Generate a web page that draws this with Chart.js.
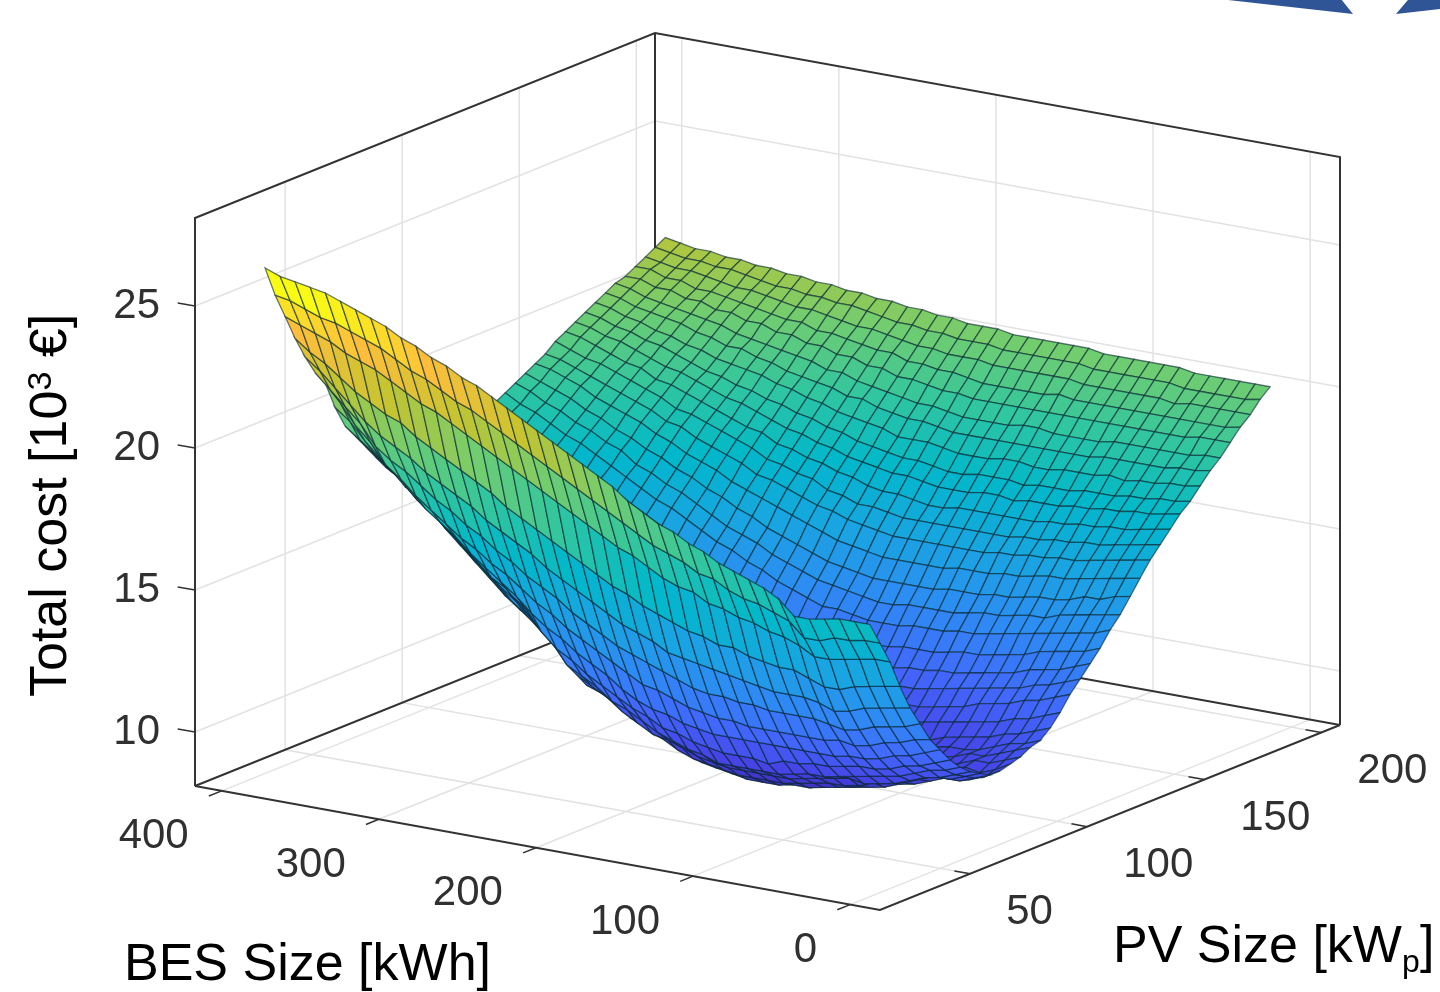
<!DOCTYPE html>
<html>
<head>
<meta charset="utf-8">
<title>Total cost surface</title>
<script src="https://cdn.jsdelivr.net/npm/chart.js@4/dist/chart.umd.js"></script>
<style>
  html, body { margin: 0; background: #fff; overflow: hidden; }
  #wrap { position: relative; width: 1440px; height: 992px; }
  .arrow { position: absolute; top: 0; height: 14px; background: #2f5597; }
  #arrowA { left: 1228px; width: 125px; clip-path: polygon(0 0, 91% 0, 100% 100%); }
  #arrowB { left: 1396px; width: 44px; clip-path: polygon(27% 0, 100% 0, 100% 64%, 0 100%); }
</style>
</head>
<body>
<div id="wrap">
  <canvas id="surfaceChart" width="1440" height="992"></canvas>
  <div class="arrow" id="arrowA"></div>
  <div class="arrow" id="arrowB"></div>
</div>
<script>
const besSizes = [15,24.6,34.3,43.9,53.5,63.1,72.8,82.4,92,101.6,111.3,120.9,130.5,140.1,149.8,159.4,169,178.6,188.3,197.9,207.5,217.1,226.8,236.4,246,255.6,265.3,274.9,284.5,294.1,303.8,313.4,323,332.6,342.3,351.9,361.5,371.1,380.8,390.4,400];
const pvSizes = [30,34.3,38.6,42.8,47.1,51.4,55.7,59.9,64.2,68.5,72.8,77,81.3,85.6,89.9,94.1,98.4,102.7,107,111.2,115.5,119.8,124.1,128.3,132.6,136.9,141.2,145.4,149.7,154,158.3,162.5,166.8,171.1,175.4,179.6,183.9,188.2,192.5,196.7,201];

const besTicks = [0, 100, 200, 300, 400];
const pvTicks = [50, 100, 150, 200];
const costTicks = [10, 15, 20, 25];

// one row per BES size, one value per PV size (10^3 EUR)
const totalCost = [
[17.2,16.4,15.6,14.6,13.7,13.0,12.3,11.8,11.3,10.9,10.6,10.4,10.2,10.2,10.3,10.4,10.6,10.7,11.0,11.4,11.9,12.3,12.7,13.1,13.6,14.0,14.5,15.0,15.5,15.9,16.3,16.7,17.0,17.4,17.8,18.1,18.5,18.9,19.2,19.6,19.9],
[17.2,16.4,15.6,14.5,13.6,12.8,12.2,11.6,11.1,10.7,10.4,10.2,10.0,9.9,10.0,10.2,10.4,10.5,10.8,11.2,11.7,12.1,12.5,12.9,13.4,13.9,14.4,14.9,15.4,15.8,16.2,16.6,16.9,17.3,17.7,18.1,18.5,18.8,19.2,19.5,19.9],
[17.2,16.3,15.5,14.4,13.5,12.7,12.0,11.4,10.9,10.6,10.2,10.0,9.8,9.7,9.8,10.0,10.2,10.4,10.6,11.0,11.5,11.9,12.3,12.8,13.3,13.8,14.2,14.8,15.3,15.7,16.1,16.5,16.9,17.3,17.7,18.0,18.5,18.8,19.2,19.5,19.9],
[17.1,16.3,15.4,14.3,13.4,12.6,11.9,11.3,10.8,10.4,10.1,10.0,9.8,9.8,9.9,10.0,10.0,10.2,10.5,10.9,11.4,11.8,12.2,12.7,13.2,13.7,14.2,14.7,15.2,15.6,16.0,16.5,16.8,17.2,17.6,18.0,18.4,18.8,19.2,19.5,19.9],
[17.0,16.1,15.3,14.1,13.2,12.4,11.7,11.1,10.6,10.2,9.9,9.8,9.6,9.6,9.7,9.8,10.0,10.0,10.3,10.7,11.2,11.6,12.1,12.6,13.1,13.6,14.0,14.6,15.1,15.5,16.0,16.4,16.8,17.2,17.6,18.0,18.4,18.8,19.2,19.5,19.9],
[17.0,16.1,15.3,14.1,13.1,12.3,11.6,11.0,10.5,10.1,9.7,9.6,9.4,9.4,9.5,9.6,9.8,9.9,10.2,10.6,11.1,11.5,11.9,12.4,13.0,13.4,13.9,14.5,15.0,15.5,15.9,16.4,16.7,17.1,17.6,18.0,18.4,18.8,19.1,19.5,19.9],
[17.5,16.6,15.6,14.3,13.3,12.4,11.7,11.0,10.5,10.0,9.6,9.5,9.3,9.2,9.3,9.5,9.7,9.9,10.1,10.5,11.0,11.4,11.8,12.3,12.9,13.4,13.9,14.5,15.0,15.4,15.9,16.3,16.7,17.2,17.6,18.0,18.4,18.8,19.2,19.6,20.0],
[17.8,16.8,15.8,14.5,13.4,12.5,11.6,10.9,10.4,9.9,9.5,9.4,9.1,9.1,9.2,9.3,9.6,9.8,10.0,10.4,10.8,11.3,11.7,12.2,12.8,13.3,13.8,14.4,14.9,15.4,15.8,16.3,16.7,17.1,17.6,18.0,18.4,18.8,19.2,19.6,20.0],
[18.0,17.0,15.9,14.5,13.4,12.5,11.6,10.9,10.3,9.8,9.6,9.2,9.0,8.9,9.0,9.2,9.4,9.6,9.8,10.3,10.7,11.2,11.6,12.1,12.7,13.2,13.7,14.3,14.9,15.3,15.8,16.2,16.6,17.1,17.5,17.9,18.4,18.8,19.2,19.6,20.0],
[18.2,17.1,16.1,14.6,13.4,12.5,11.6,10.9,10.3,9.7,9.5,9.1,8.9,8.8,8.9,9.1,9.3,9.5,9.8,10.2,10.6,11.1,11.5,12.1,12.6,13.2,13.7,14.3,14.8,15.3,15.7,16.2,16.6,17.1,17.5,17.9,18.4,18.8,19.2,19.6,20.0],
[18.4,17.3,16.2,14.7,13.5,12.5,11.6,10.9,10.2,9.7,9.4,9.1,8.8,8.7,8.8,9.0,9.2,9.5,9.7,10.1,10.5,11.0,11.5,12.0,12.6,13.1,13.6,14.2,14.8,15.2,15.7,16.2,16.6,17.0,17.5,17.9,18.4,18.8,19.2,19.6,20.0],
[18.7,17.6,16.4,14.9,13.6,12.6,11.6,10.9,10.2,9.6,9.3,9.0,8.7,8.6,8.7,8.9,9.1,9.4,9.6,10.0,10.5,10.9,11.4,11.9,12.5,13.0,13.6,14.2,14.7,15.2,15.7,16.1,16.5,17.0,17.5,17.9,18.4,18.8,19.2,19.6,20.0],
[18.9,17.7,16.5,14.9,13.7,12.6,11.6,10.9,10.0,9.5,9.2,8.9,8.6,8.5,8.6,8.8,9.0,9.3,9.5,10.0,10.4,10.9,11.4,11.9,12.5,13.0,13.6,14.2,14.7,15.2,15.7,16.2,16.6,17.1,17.5,18.0,18.4,18.9,19.3,19.7,20.1],
[19.2,18.0,16.8,15.1,13.8,12.7,11.7,10.9,10.1,9.5,9.2,8.8,8.6,8.5,8.6,8.7,9.0,9.2,9.5,9.9,10.4,10.9,11.3,11.9,12.5,13.0,13.5,14.1,14.7,15.2,15.7,16.2,16.6,17.1,17.5,18.0,18.4,18.8,19.3,19.7,20.1],
[19.4,18.2,16.9,15.2,13.9,12.7,11.7,10.9,10.1,9.5,9.2,8.8,8.5,8.4,8.5,8.7,8.9,9.2,9.6,9.8,10.3,10.8,11.3,11.8,12.4,13.0,13.5,14.1,14.7,15.2,15.7,16.1,16.6,17.0,17.5,17.9,18.4,18.8,19.3,19.7,20.1],
[19.7,18.4,17.1,15.4,14.0,12.8,11.8,10.9,10.1,9.5,9.2,8.8,8.5,8.4,8.5,8.6,8.9,9.1,9.6,9.8,10.3,10.8,11.2,11.8,12.4,12.9,13.5,14.1,14.7,15.2,15.6,16.1,16.5,17.0,17.5,17.9,18.4,18.8,19.3,19.7,20.1],
[20.0,18.7,17.4,15.6,14.1,13.0,11.9,11.0,10.2,9.5,9.2,8.8,8.5,8.4,8.5,8.6,8.9,9.1,9.6,9.8,10.3,10.8,11.2,11.8,12.4,12.9,13.5,14.1,14.7,15.2,15.6,16.1,16.5,17.0,17.5,17.9,18.4,18.8,19.3,19.7,20.1],
[20.4,19.0,17.7,15.8,14.4,13.2,12.1,11.1,10.3,9.7,9.3,8.9,8.6,8.5,8.6,8.7,9.0,9.2,9.5,9.9,10.4,10.8,11.3,11.9,12.5,13.0,13.5,14.1,14.7,15.2,15.7,16.2,16.6,17.1,17.5,17.9,18.4,18.8,19.3,19.7,20.1],
[20.7,19.3,17.9,16.1,14.6,13.4,12.3,11.3,10.5,9.8,9.4,9.0,8.7,8.6,8.7,8.8,9.1,9.3,9.5,10.0,10.5,10.9,11.4,12.0,12.6,13.1,13.6,14.2,14.8,15.3,15.8,16.3,16.7,17.2,17.6,18.0,18.5,18.9,19.4,19.8,20.2],
[21.0,19.6,18.2,16.3,14.8,13.6,12.4,11.4,10.6,10.0,9.6,9.1,8.8,8.7,8.8,9.0,9.2,9.5,9.7,10.2,10.6,11.1,11.5,12.1,12.6,13.2,13.7,14.3,14.9,15.4,15.8,16.3,16.7,17.2,17.7,18.1,18.5,19.0,19.4,19.8,20.2],
[21.3,19.9,18.5,16.6,15.1,13.8,12.7,11.6,10.9,10.2,9.8,9.3,9.0,8.9,9.0,9.2,9.4,9.7,9.9,10.3,10.7,11.2,11.7,12.2,12.8,13.3,13.8,14.4,15.0,15.4,15.9,16.4,16.8,17.2,17.7,18.1,18.6,19.0,19.4,19.8,20.2],
[21.6,20.2,18.8,16.9,15.4,14.1,13.0,11.9,11.1,10.5,9.9,9.6,9.3,9.2,9.3,9.5,9.7,9.9,10.1,10.5,11.0,11.5,11.9,12.4,13.0,13.5,14.0,14.6,15.2,15.6,16.1,16.5,16.9,17.4,17.8,18.2,18.7,19.1,19.5,19.9,20.3],
[21.9,20.5,19.1,17.2,15.7,14.4,13.3,12.3,11.4,10.8,10.2,9.9,9.6,9.5,9.6,9.8,10.0,9.9,10.4,10.8,11.3,11.7,12.1,12.6,13.2,13.7,14.2,14.8,15.3,15.7,16.2,16.6,17.0,17.5,17.9,18.3,18.7,19.1,19.5,19.9,20.3],
[22.2,20.8,19.4,17.5,16.0,14.7,13.6,12.6,11.7,11.0,10.5,10.1,9.9,9.8,9.9,10.0,10.1,10.3,10.7,11.1,11.6,12.0,12.4,12.9,13.5,13.9,14.4,15.0,15.5,16.0,16.4,16.8,17.2,17.6,18.1,18.4,18.9,19.3,19.6,20.0,20.4],
[22.5,21.1,19.7,17.8,16.3,15.1,13.9,12.9,12.0,11.4,10.9,10.5,10.1,10.0,10.1,10.3,10.5,10.7,11.0,11.4,11.8,12.3,12.7,13.2,13.7,14.2,14.6,15.2,15.7,16.1,16.5,16.9,17.3,17.7,18.1,18.5,18.9,19.3,19.7,20.0,20.4],
[22.8,21.4,20.0,18.1,16.7,15.4,14.3,13.3,12.4,11.7,11.2,10.8,10.5,10.4,10.5,10.7,10.9,11.0,11.3,11.7,12.2,12.6,13.0,13.5,14.0,14.4,14.9,15.4,15.9,16.3,16.7,17.1,17.5,17.9,18.3,18.7,19.1,19.4,19.8,20.1,20.5],
[23.1,21.7,20.3,18.4,17.0,15.7,14.6,13.6,12.7,12.0,11.5,11.0,10.7,10.6,10.7,10.9,11.0,11.2,11.6,12.0,12.4,12.8,13.2,13.7,14.2,14.6,15.1,15.6,16.0,16.4,16.8,17.2,17.6,18.0,18.4,18.7,19.1,19.5,19.8,20.2,20.5],
[23.3,22.0,20.6,18.8,17.3,16.1,15.0,14.0,13.2,12.7,12.1,11.6,11.2,11.1,11.1,11.3,11.5,11.7,12.0,12.4,12.8,13.2,13.6,14.0,14.5,14.9,15.4,15.8,16.3,16.7,17.1,17.4,17.8,18.2,18.5,18.9,19.3,19.6,19.9,20.3,20.6],
[23.6,22.2,20.9,19.1,17.6,16.4,15.4,14.5,13.9,13.2,12.7,12.1,11.7,11.5,11.6,11.7,11.9,12.1,12.4,12.8,13.2,13.6,13.9,14.3,14.8,15.2,15.6,16.1,16.5,16.9,17.2,17.6,17.9,18.3,18.6,19.0,19.3,19.6,20.0,20.3,20.6],
[23.8,22.5,21.2,19.4,18.0,16.8,15.7,14.9,14.3,13.8,13.2,12.6,12.1,11.9,12.0,12.1,12.3,12.5,12.8,13.1,13.5,13.9,14.2,14.6,15.1,15.5,15.9,16.3,16.7,17.1,17.4,17.8,18.1,18.5,18.8,19.1,19.5,19.8,20.1,20.4,20.7],
[24.1,22.8,21.5,19.7,18.3,17.1,16.1,15.3,14.9,14.3,13.7,13.1,12.6,12.3,12.4,12.5,12.7,12.8,13.1,13.5,13.9,14.2,14.5,14.9,15.3,15.7,16.1,16.5,16.9,17.3,17.6,17.9,18.2,18.6,18.9,19.2,19.5,19.8,20.1,20.4,20.7],
[24.3,23.0,21.7,20.0,18.6,17.5,16.4,15.7,15.3,14.6,14.1,13.5,13.0,12.7,12.8,12.9,13.1,13.2,13.5,13.8,14.2,14.5,14.8,15.2,15.6,16.0,16.4,16.8,17.2,17.5,17.8,18.1,18.4,18.7,19.1,19.3,19.7,19.9,20.2,20.5,20.8],
[24.6,23.3,22.0,20.3,18.9,17.8,16.8,16.2,15.6,15.1,14.6,14.0,13.4,13.1,13.2,13.3,13.4,13.6,13.9,14.2,14.5,14.8,15.1,15.5,15.9,16.2,16.6,17.0,17.3,17.6,18.0,18.3,18.5,18.8,19.1,19.4,19.7,20.0,20.3,20.5,20.8],
[24.8,23.6,22.3,20.7,19.3,18.2,17.2,16.6,16.1,15.6,15.1,14.5,13.9,13.6,13.7,13.8,13.9,14.1,14.3,14.6,15.0,15.2,15.5,15.9,16.2,16.6,16.9,17.3,17.6,17.9,18.2,18.5,18.7,19.0,19.3,19.6,19.9,20.1,20.4,20.6,20.9],
[25.0,23.8,22.6,20.9,19.6,18.6,17.6,17.0,16.6,16.1,15.6,15.0,14.4,14.0,14.1,14.2,14.3,14.4,14.7,15.0,15.3,15.6,15.8,16.1,16.5,16.8,17.1,17.5,17.8,18.1,18.3,18.6,18.9,19.1,19.4,19.7,19.9,20.2,20.4,20.7,20.9],
[25.2,24.0,22.8,21.2,19.9,18.9,18.1,17.5,17.0,16.5,16.1,15.5,14.9,14.5,14.5,14.6,14.7,14.8,15.1,15.3,15.6,15.9,16.1,16.4,16.8,17.1,17.4,17.7,18.0,18.3,18.6,18.8,19.1,19.3,19.6,19.8,20.1,20.3,20.5,20.8,21.0],
[25.4,24.2,23.0,21.5,20.3,19.3,18.5,18.0,17.5,16.9,16.4,16.0,15.4,14.9,14.9,15.0,15.1,15.2,15.4,15.7,15.9,16.2,16.4,16.7,17.0,17.3,17.6,17.9,18.2,18.5,18.7,19.0,19.2,19.4,19.7,19.9,20.1,20.3,20.6,20.8,21.0],
[25.5,24.3,23.3,21.9,20.8,20.0,19.2,18.5,18.0,17.5,17.0,16.5,16.0,15.5,15.3,15.3,15.5,15.6,15.8,16.0,16.3,16.5,16.8,17.0,17.3,17.6,17.9,18.2,18.4,18.7,18.9,19.2,19.4,19.6,19.8,20.0,20.3,20.5,20.7,20.9,21.1],
[25.6,24.5,23.5,22.3,21.3,20.5,19.7,19.0,18.4,17.9,17.4,17.0,16.5,16.0,15.7,15.7,15.8,16.0,16.2,16.4,16.6,16.8,17.1,17.3,17.6,17.8,18.1,18.4,18.6,18.8,19.1,19.3,19.5,19.7,19.9,20.1,20.3,20.5,20.7,20.9,21.1],
[25.7,24.7,23.7,22.6,21.8,21.0,20.4,19.6,18.8,18.3,17.8,17.3,16.9,16.4,16.0,16.1,16.2,16.3,16.5,16.7,16.9,17.1,17.4,17.6,17.8,18.1,18.3,18.6,18.8,19.0,19.3,19.5,19.7,19.9,20.1,20.3,20.5,20.7,20.8,21.0,21.2],
[25.9,24.8,23.9,23.0,22.2,21.5,21.0,20.0,19.2,18.7,18.2,17.7,17.2,16.8,16.2,16.3,16.5,16.7,16.9,17.1,17.3,17.5,17.7,17.9,18.1,18.3,18.5,18.7,18.9,19.2,19.4,19.6,19.8,20.0,20.2,20.4,20.5,20.7,20.9,21.1,21.3]
];

// axis limits of the box, and where its three edges land on the page
const besLimits = [-19, 417];
const pvLimits = [11.5, 208];
const costLimits = [8.1, 28.1];
const boxFront = [880, 910];
const besEdge = [-685, -124];
const pvEdge = [460, -185];
const costEdge = [0, -568];

const parula = [[62,38,168],[71,65,229],[66,105,254],[45,140,243],[25,165,225],[1,184,202],[49,198,159],[114,205,111],[197,196,48],[254,190,60],[249,251,21]];
const colorMin = 8.0;
const colorMax = 25.0;

function project(bes, pv, cost) {
  const u = (bes - besLimits[0]) / (besLimits[1] - besLimits[0]);
  const v = (pv - pvLimits[0]) / (pvLimits[1] - pvLimits[0]);
  const w = (cost - costLimits[0]) / (costLimits[1] - costLimits[0]);
  return {
    x: boxFront[0] + u * besEdge[0] + v * pvEdge[0] + w * costEdge[0],
    y: boxFront[1] + u * besEdge[1] + v * pvEdge[1] + w * costEdge[1],
  };
}

function costColor(cost) {
  const t = Math.min(Math.max((cost - colorMin) / (colorMax - colorMin), 0), 1) * (parula.length - 1);
  const k = Math.min(Math.floor(t), parula.length - 2);
  const c = parula[k].map((v, n) => Math.round(v + (parula[k + 1][n] - v) * (t - k)));
  return `rgb(${c[0]},${c[1]},${c[2]})`;
}

function lineSet(points, color, width) {
  return { data: points, borderColor: color, borderWidth: width, fill: false, pointRadius: 0, clip: false };
}

const bMin = besLimits[0], bMax = besLimits[1];
const pMin = pvLimits[0], pMax = pvLimits[1];
const cMin = costLimits[0], cMax = costLimits[1];

// chart.js paints the first dataset on top, so nearest cells go first
const datasets = [];
for (let i = 0; i < besSizes.length - 1; i++) {
  for (let j = 0; j < pvSizes.length - 1; j++) {
    const corners = [[i, j], [i + 1, j], [i + 1, j + 1], [i, j + 1], [i, j]];
    const mean = (totalCost[i][j] + totalCost[i + 1][j] + totalCost[i + 1][j + 1] + totalCost[i][j + 1]) / 4;
    datasets.push({
      data: corners.map(([a, b]) => project(besSizes[a], pvSizes[b], totalCost[a][b])),
      backgroundColor: costColor(mean),
      borderColor: "rgba(10,40,50,0.62)",
      borderWidth: 1.3,
      fill: "shape",
      pointRadius: 0,
      clip: false,
    });
  }
}

// box outline
const boxColor = "#333333";
datasets.push(lineSet([project(bMax, pMin, cMin), project(bMin, pMin, cMin), project(bMin, pMax, cMin)], boxColor, 2));
datasets.push(lineSet([project(bMax, pMin, cMin), project(bMax, pMax, cMin), project(bMin, pMax, cMin)], boxColor, 2));
datasets.push(lineSet([project(bMax, pMin, cMin), project(bMax, pMin, cMax), project(bMax, pMax, cMax), project(bMin, pMax, cMax), project(bMin, pMax, cMin)], boxColor, 2));
datasets.push(lineSet([project(bMax, pMax, cMin), project(bMax, pMax, cMax)], boxColor, 2));

// tick marks
besTicks.forEach((b) => datasets.push(lineSet([project(b, pMin, cMin), project(b, pMin - 5.5, cMin)], boxColor, 1.5)));
pvTicks.forEach((p) => datasets.push(lineSet([project(bMin, p, cMin), project(bMin + 10, p, cMin)], boxColor, 1.5)));
costTicks.forEach((c) => datasets.push(lineSet([project(bMax, pMin, c), project(bMax + 11, pMin, c)], boxColor, 1.5)));

// grid on the floor and the two back walls
const gridColor = "#e2e2e2";
besTicks.forEach((b) => {
  datasets.push(lineSet([project(b, pMin, cMin), project(b, pMax, cMin), project(b, pMax, cMax)], gridColor, 1.5));
});
pvTicks.forEach((p) => {
  datasets.push(lineSet([project(bMin, p, cMin), project(bMax, p, cMin), project(bMax, p, cMax)], gridColor, 1.5));
});
costTicks.forEach((c) => {
  datasets.push(lineSet([project(bMax, pMin, c), project(bMax, pMax, c), project(bMin, pMax, c)], gridColor, 1.5));
});

const axisText = {
  id: "axisText",
  afterDraw(chart) {
    const { ctx, scales } = chart;
    const px = (pt) => ({ x: scales.x.getPixelForValue(pt.x), y: scales.y.getPixelForValue(pt.y) });
    ctx.save();
    ctx.font = '42px "Liberation Sans", Arial, sans-serif';
    ctx.fillStyle = "#303030";
    ctx.textBaseline = "middle";

    ctx.textAlign = "right";
    besTicks.forEach((b) => {
      const p = px(project(b, pMin, cMin));
      ctx.fillText(String(b), p.x - 33, p.y + 46);
    });
    costTicks.forEach((c) => {
      const p = px(project(bMax, pMin, c));
      ctx.fillText(String(c), p.x - 35, p.y);
    });
    ctx.textAlign = "left";
    pvTicks.forEach((v) => {
      const p = px(project(bMin, v, cMin));
      ctx.fillText(String(v), p.x + 36, p.y + 39);
    });

    ctx.fillStyle = "#000000";
    ctx.textBaseline = "alphabetic";
    ctx.font = '52px "Liberation Sans", Arial, sans-serif';
    ctx.fillText("BES Size [kWh]", 124, 980);
    ctx.fillText("PV Size [kW", 1113, 962);
    const w = ctx.measureText("PV Size [kW").width;
    ctx.fillText("]", 1113 + w + 18, 962);
    ctx.font = '32px "Liberation Sans", Arial, sans-serif';
    ctx.fillText("p", 1113 + w, 972);

    ctx.font = '52px "Liberation Sans", Arial, sans-serif';
    ctx.translate(66, 697);
    ctx.rotate(-Math.PI / 2);
    const head = "Total cost [10";
    ctx.fillText(head, 0, 0);
    const headWidth = ctx.measureText(head).width;
    ctx.fillText(" \u20ac]", headWidth + 19, 0);
    ctx.font = '34px "Liberation Sans", Arial, sans-serif';
    ctx.fillText("3", headWidth, -15);
    ctx.restore();
  },
};

new Chart(document.getElementById("surfaceChart"), {
  type: "line",
  data: { datasets },
  plugins: [axisText],
  options: {
    responsive: false,
    animation: false,
    events: [],
    layout: { padding: 0 },
    plugins: { legend: { display: false }, tooltip: { enabled: false } },
    scales: {
      x: { type: "linear", min: 0, max: 1440, display: false },
      y: { type: "linear", min: 0, max: 992, reverse: true, display: false },
    },
  },
});
</script>
</body>
</html>
